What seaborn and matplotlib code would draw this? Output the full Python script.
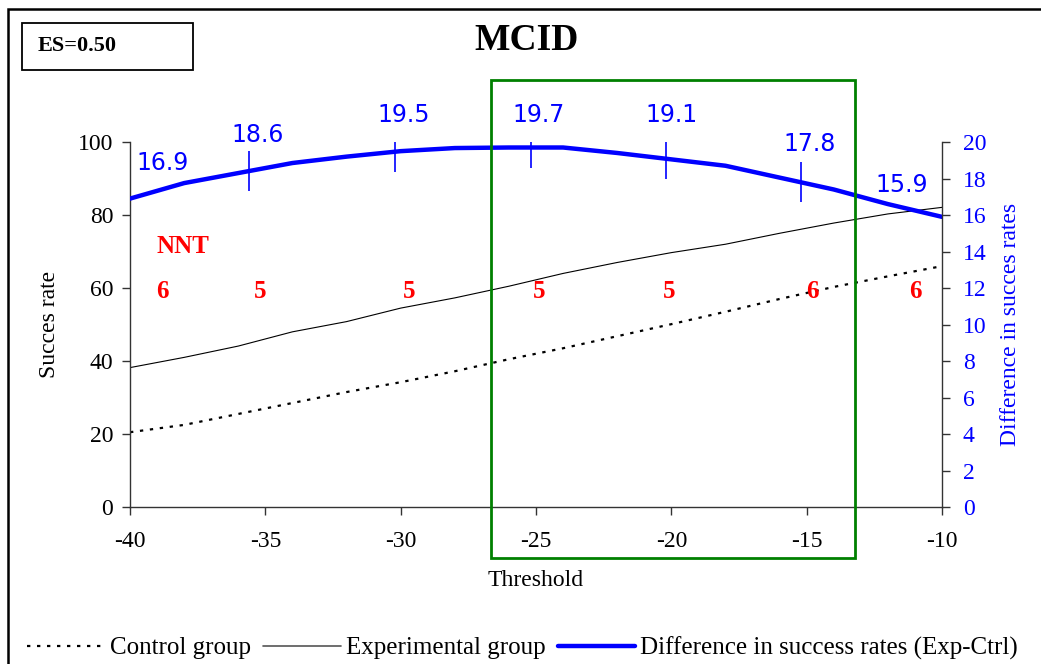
import numpy as np
import pandas as pd
import matplotlib
matplotlib.use("Agg")
import matplotlib.pyplot as plt
from matplotlib.patches import Rectangle
from matplotlib.lines import Line2D
import seaborn as sns

sns.set_theme(style="white")
plt.rcParams["font.family"] = ["Liberation Serif", "DejaVu Serif"]
plt.rcParams["axes.unicode_minus"] = False
plt.rcParams["text.color"] = "black"
plt.rcParams["axes.labelcolor"] = "black"
plt.rcParams["xtick.color"] = "black"
plt.rcParams["ytick.color"] = "black"

# data
threshold = [-40, -38, -36, -34, -32, -30, -28, -26, -24, -22, -20, -18, -16, -14, -12, -10]
control = [20.5, 22.5, 25.5, 28.5, 31.5, 34.2, 37.2, 40.5, 43.5, 46.8, 50.1, 53.5, 57.0, 60.3, 63.2, 66.0]
experimental = [38.2, 41.0, 44.1, 48.0, 50.8, 54.5, 57.3, 60.5, 64.0, 67.0, 69.7, 72.0, 75.0, 77.8, 80.3, 82.1]
difference = [16.9, 17.75, 18.3, 18.85, 19.2, 19.5, 19.67, 19.7, 19.7, 19.4, 19.05, 18.7, 18.05, 17.4, 16.6, 15.9]

diff_labels = ["16.9", "18.6", "19.5", "19.7", "19.1", "17.8", "15.9"]
nnt_values = ["6", "5", "5", "5", "5", "6", "6"]
mcid_range = [-26.67, -13.2]

# annotation placement
diff_label_x = [-38.8, -35.3, -29.9, -24.9, -20.0, -14.9, -11.5]
diff_label_y = [18.85, 20.4, 21.5, 21.5, 21.5, 19.9, 17.65]
diff_mark_x = [-35.6, -30.2, -25.2, -20.2, -15.2]
nnt_x = [-38.8, -35.2, -29.7, -24.9, -20.1, -14.8, -11.0]

df = pd.DataFrame({"Threshold": threshold, "Control": control,
                   "Experimental": experimental, "Difference": difference})

fig = plt.figure(figsize=(10.41, 6.64), dpi=100)
ax = fig.add_axes([0.1249, 0.2364, 0.78, 0.5497])
ax2 = ax.twinx()

sns.lineplot(data=df, x="Threshold", y="Control", ax=ax, color="black",
             linewidth=1.6, linestyle=(0, (1.5, 3)))
sns.lineplot(data=df, x="Threshold", y="Experimental", ax=ax, color="black",
             linewidth=0.8)
sns.lineplot(data=df, x="Threshold", y="Difference", ax=ax2, color="#0000FF",
             linewidth=3.2)

ax.set_xlim(-40, -10)
ax.set_ylim(0, 100)
ax2.set_ylim(0, 20)
ax.set_xticks(range(-40, -9, 5))
ax.set_yticks(range(0, 101, 20))
ax2.set_yticks(range(0, 21, 2))

for a in (ax, ax2):
    for s in a.spines.values():
        s.set_visible(False)
        s.set_color("#333333")
        s.set_linewidth(1.0)
ax.spines["left"].set_visible(True)
ax.spines["bottom"].set_visible(True)
ax2.spines["right"].set_visible(True)

ax.tick_params(axis="y", direction="out", length=6, width=1, color="#333333",
               labelsize=17, left=True, pad=6)
ax.tick_params(axis="x", direction="out", length=6, width=1, color="#333333",
               labelsize=17, bottom=True, pad=11)
ax2.tick_params(axis="y", direction="out", length=6, width=1, color="#333333",
                labelsize=17, right=True, labelcolor="#0000FF", pad=9)
ax.grid(False)
ax2.grid(False)

ax.set_xlabel("Threshold", fontsize=17, labelpad=13)
ax.set_ylabel("Succes rate", fontsize=17, labelpad=13)
ax2.set_ylabel("Difference in succes rates", fontsize=17, color="#0000FF", labelpad=10)

# value labels and marks on the difference curve
for xm in diff_mark_x:
    yc = np.interp(xm, threshold, difference)
    ax2.vlines(xm, yc - 1.1, yc + 1.1, color="#0000FF", linewidth=1.2)
for xl, yl, t in zip(diff_label_x, diff_label_y, diff_labels):
    ax2.text(xl, yl, t, color="#0000FF", fontsize=17, ha="center", va="center",
             family=["DejaVu Sans"], clip_on=False)

# NNT row
ax.text(-38.05, 71.3, "NNT", color="red", fontsize=18, fontweight="bold",
        ha="center", va="center")
for xn, t in zip(nnt_x, nnt_values):
    ax.text(xn, 59, t, color="red", fontsize=18, fontweight="bold",
            ha="center", va="center")

# MCID window
rect = Rectangle((mcid_range[0], -2.8), mcid_range[1] - mcid_range[0], 26.2,
                 fill=False, edgecolor="#008000", linewidth=2, zorder=10,
                 clip_on=False, transform=ax2.transData)
ax2.add_patch(rect)

# title and ES box
fig.text(0.506, 1 - 40 / 664, "MCID", fontsize=27, fontweight="bold",
         ha="center", va="center")
fig.add_artist(Rectangle((22 / 1041, 1 - 70 / 664), 171 / 1041, 47 / 664,
                         fill=False, edgecolor="black", linewidth=1.3,
                         transform=fig.transFigure))
fig.text(38 / 1041, 1 - 46 / 664, "ES=0.50", fontsize=16, fontweight="bold",
         ha="left", va="center")

# outer frame
fig.add_artist(Rectangle((8 / 1041, -0.1), 1.2, 1 - 9 / 664 + 0.1, fill=False,
                         edgecolor="black", linewidth=1.8,
                         transform=fig.transFigure))

handles = [
    Line2D([], [], color="black", linewidth=1.6, linestyle=(0, (1.5, 3))),
    Line2D([], [], color="#555555", linewidth=1.2),
    Line2D([], [], color="#0000FF", linewidth=3.2),
]
fig.legend(handles, ["Control group", "Experimental group",
                     "Difference in success rates (Exp-Ctrl)"],
           loc="center", bbox_to_anchor=(0.502, 1 - 648 / 664), ncol=3,
           frameon=False, fontsize=18, handlelength=3.1, handletextpad=0.2,
           columnspacing=0.5)

fig.savefig("out.png", dpi=100)
